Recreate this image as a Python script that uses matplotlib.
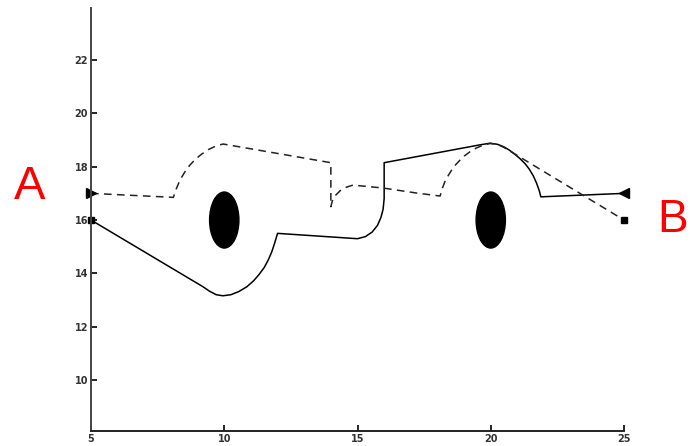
import matplotlib
matplotlib.use("Agg")
import matplotlib.pyplot as plt
from matplotlib.patches import Ellipse

# path along the lower edge (solid)
solid_x = [5, 9.2, 9.45, 9.7, 9.95, 10.25, 10.55, 10.85, 11.1, 11.3, 11.5,
           11.65, 11.78, 11.88, 11.95, 12.0, 15.0, 15.3, 15.55, 15.75, 15.88,
           15.96, 16.0, 16.0, 19.6, 19.97, 20.25, 20.5, 20.7, 20.9, 21.1,
           21.3, 21.45, 21.6, 21.72, 21.82, 21.88, 25]
solid_y = [16, 13.5, 13.33, 13.2, 13.16, 13.2, 13.32, 13.5, 13.72, 13.95, 14.22,
           14.5, 14.8, 15.1, 15.33, 15.5, 15.3, 15.38, 15.55, 15.8, 16.1,
           16.4, 16.8, 18.15, 18.82, 18.88, 18.84, 18.74, 18.62, 18.47, 18.3,
           18.1, 17.9, 17.65, 17.38, 17.1, 16.87, 17.0]

# path along the upper edge (dashed)
dash_x = [5, 8.09, 8.2, 8.34, 8.52, 8.71, 8.92, 9.15, 9.42, 9.72, 9.96,
          14.0, 14.0, 14.05, 14.15, 14.35, 14.58, 14.83, 15.96, 17.23, 18.1,
          18.18, 18.28, 18.4, 18.53, 18.68, 18.85, 19.02, 19.22, 19.46, 19.72,
          19.97, 20.25, 20.5, 25]
dash_y = [17, 16.85, 17.17, 17.5, 17.8, 18.06, 18.28, 18.47, 18.65, 18.79, 18.85,
          18.15, 16.5, 16.7, 16.9, 17.1, 17.23, 17.31, 17.2, 17.01, 16.9,
          17.18, 17.44, 17.66, 17.87, 18.07, 18.25, 18.41, 18.56, 18.7, 18.81,
          18.87, 18.84, 18.72, 16.0]

# wheels
wheel_x = [10, 20]
wheel_y = [16, 16]

xticks = [5, 10, 15, 20, 25]
yticks = [10, 12, 14, 16, 18, 20, 22]

fig = plt.figure(figsize=(6.9, 4.46), dpi=100)
ax = fig.add_axes([91/690., 15/446., 533/690., 423/446.])

ax.plot(solid_x, solid_y, color='k', linewidth=1.1, clip_on=False)
ax.plot(dash_x, dash_y, color='#222222', linewidth=1.1,
        linestyle=(0, (5, 3.5)), clip_on=False)

# start / end markers
ax.plot(solid_x[0], solid_y[0], 's', color='k', markersize=5, clip_on=False)
ax.plot(solid_x[-1], solid_y[-1], '<', color='k', markersize=7, clip_on=False)
ax.plot(dash_x[0], dash_y[0], '>', color='k', markersize=7, clip_on=False)
ax.plot(dash_x[-1], dash_y[-1], 's', color='k', markersize=5, clip_on=False)

for wx, wy in zip(wheel_x, wheel_y):
    ax.add_patch(Ellipse((wx, wy), 1.1, 2.1, color='k'))

ax.set_xlim(5, 25)
ax.set_ylim(8.09, 23.95)
ax.set_xticks(xticks)
ax.set_yticks(yticks)
ax.set_xticklabels([str(t) for t in xticks], fontsize=7, fontweight='bold')
ax.set_yticklabels([str(t) for t in yticks], fontsize=7, fontweight='bold')
ax.tick_params(direction='in', length=4, width=1.2, pad=2, colors='k')
for lab in ax.get_xticklabels() + ax.get_yticklabels():
    lab.set_color('#333333')

ax.spines['top'].set_visible(False)
ax.spines['right'].set_visible(False)
ax.spines['left'].set_linewidth(1.4)
ax.spines['bottom'].set_linewidth(1.4)
ax.spines['left'].set_color('#444444')
ax.spines['bottom'].set_color('#222222')

fig.text(30/690., 1 - 187/446., 'A', color='red', fontsize=34,
         family='Liberation Sans', ha='center', va='center')
fig.text(673/690., 1 - 220/446., 'B', color='red', fontsize=33,
         family='Liberation Sans', ha='center', va='center')

fig.savefig('out.png', dpi=100)
